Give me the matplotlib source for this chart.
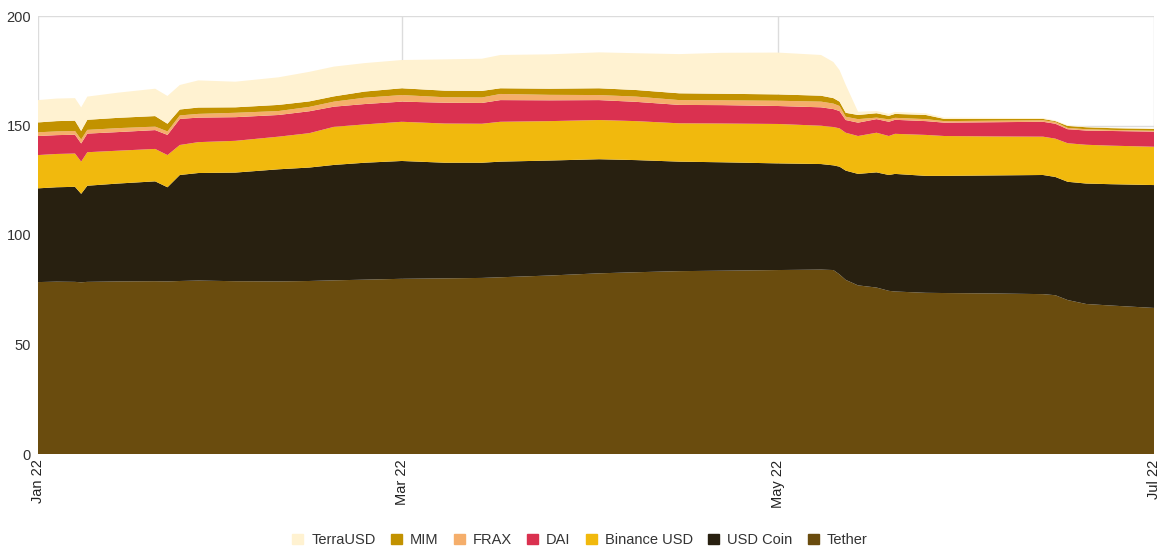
import matplotlib
matplotlib.use("Agg")
import matplotlib.pyplot as plt
import matplotlib.dates as mdates
import matplotlib.patches as mpatches
import numpy as np
import pandas as pd

# ── Data (supply, billions USD) ──────────────────────────────────────────────
dates = pd.to_datetime([
    "2022-01-01", "2022-01-04", "2022-01-07", "2022-01-08", "2022-01-09",
    "2022-01-14", "2022-01-20", "2022-01-22", "2022-01-24", "2022-01-27",
    "2022-02-02", "2022-02-09", "2022-02-14", "2022-02-18", "2022-02-23",
    "2022-03-01", "2022-03-08", "2022-03-14", "2022-03-17", "2022-03-25",
    "2022-04-02", "2022-04-08", "2022-04-15", "2022-04-22", "2022-05-01",
    "2022-05-08", "2022-05-10", "2022-05-11", "2022-05-12", "2022-05-14",
    "2022-05-17", "2022-05-19", "2022-05-20", "2022-05-25", "2022-05-28",
    "2022-06-05", "2022-06-13", "2022-06-15", "2022-06-17", "2022-06-20",
    "2022-06-24", "2022-07-01",
])

tether = [78.5, 78.7, 78.6, 78.4, 78.6, 78.8, 78.9, 78.8, 79.0, 79.2,
          78.9, 78.8, 79.0, 79.3, 79.6, 80.0, 80.2, 80.4, 80.7, 81.5,
          82.5, 83.0, 83.5, 83.7, 84.0, 84.2, 84.0, 82.0, 79.5, 77.0,
          76.0, 74.5, 74.2, 73.6, 73.5, 73.3, 73.0, 72.5, 70.3, 68.5,
          67.8, 66.7]
usd_coin = [42.8, 43.1, 43.4, 40.4, 43.9, 44.7, 45.6, 43.0, 48.4, 49.1,
            49.6, 51.2, 51.8, 52.7, 53.4, 53.8, 52.8, 52.6, 52.8, 52.5,
            52.1, 51.2, 50.0, 49.5, 48.7, 48.2, 47.8, 49.2, 49.9, 50.9,
            52.6, 52.9, 53.7, 53.4, 53.5, 53.9, 54.4, 54.0, 54.0, 55.0,
            55.4, 56.1]
binance_usd = [15.2, 15.2, 15.2, 14.7, 15.3, 15.0, 14.8, 14.7, 13.7, 14.1,
               14.5, 14.9, 15.7, 17.4, 17.5, 17.9, 17.9, 17.8, 18.2, 18.0,
               17.9, 17.8, 17.5, 17.7, 18.0, 17.5, 17.5, 17.5, 17.3, 17.3,
               18.1, 17.8, 18.3, 18.7, 18.2, 17.8, 17.5, 17.5, 17.6, 17.7,
               17.6, 17.5]
dai = [8.7, 8.6, 8.6, 8.3, 8.5, 8.5, 8.6, 9.2, 11.9, 11.2,
       10.8, 9.9, 10.0, 9.2, 9.3, 9.2, 9.5, 9.5, 9.9, 9.5,
       9.1, 8.8, 8.4, 8.4, 8.2, 8.4, 8.2, 7.9, 5.8, 6.1,
       6.2, 6.5, 6.4, 6.3, 6.1, 6.5, 6.8, 6.8, 6.4, 6.5,
       6.7, 6.9]
frax = [1.7, 1.7, 1.7, 1.8, 1.7, 1.8, 1.6, 1.6, 1.6, 1.7,
        2.0, 1.8, 2.0, 2.3, 2.9, 3.0, 2.5, 2.5, 2.8, 2.5,
        2.3, 2.4, 2.2, 2.2, 2.4, 2.6, 2.5, 2.3, 1.5, 1.6,
        0.7, 1.1, 0.9, 0.9, 0.7, 0.7, 0.7, 0.8, 0.6, 0.6,
        0.5, 0.4]
mim = [4.5, 4.7, 4.7, 3.9, 4.6, 4.7, 4.8, 3.5, 2.7, 2.9,
       2.5, 2.8, 2.5, 2.4, 2.8, 3.1, 3.0, 3.0, 2.6, 2.8,
       3.1, 3.0, 3.1, 3.0, 2.9, 2.7, 2.5, 2.0, 1.8, 1.9,
       2.0, 1.6, 1.8, 1.9, 1.0, 0.8, 0.6, 0.4, 0.9, 0.9,
       0.8, 0.8]
terra_usd = [10.2, 10.3, 10.3, 10.8, 10.6, 11.5, 12.5, 12.7, 11.2, 12.4,
             11.7, 12.6, 13.5, 13.6, 13.0, 12.9, 14.3, 14.7, 15.2, 15.7,
             16.4, 16.8, 17.9, 18.7, 19.1, 18.6, 16.5, 14.4, 12.8, 1.5,
             1.0, 0.9, 0.9, 0.8, 0.6, 0.5, 0.4, 0.3, 0.3, 0.3,
             0.2, 0.2]

names = ["Tether", "USD Coin", "Binance USD", "DAI", "FRAX", "MIM", "TerraUSD"]
colors = ["#6A4C0E", "#282010", "#F1B90D", "#DA3150", "#F5AE6B", "#C29200", "#FFF2D1"]
series = [tether, usd_coin, binance_usd, dai, frax, mim, terra_usd]

plt.rcParams["font.family"] = ["Liberation Sans", "DejaVu Sans"]

# ── Canvas ───────────────────────────────────────────────────────────────────
fig = plt.figure(figsize=(11.6, 5.49), dpi=100)
ax = fig.add_axes([38 / 1160, 1 - 454 / 549, (1154 - 38) / 1160, (454 - 16) / 549])

ax.stackplot(dates, *series, colors=colors, linewidth=0, zorder=2)

ax.set_xlim(pd.Timestamp("2022-01-01"), pd.Timestamp("2022-07-01"))
ax.set_ylim(0, 200)
ax.set_yticks([0, 50, 100, 150, 200])
ax.set_xticks(pd.to_datetime(["2022-01-01", "2022-03-01", "2022-05-01", "2022-07-01"]))
ax.xaxis.set_major_formatter(mdates.DateFormatter("%b %y"))

ax.grid(True, color="#dcdcdc", linewidth=1, zorder=0)
ax.set_axisbelow(True)
for s in ax.spines.values():
    s.set_visible(False)

ax.tick_params(axis="both", length=0, labelsize=10.5, colors="#333333")
ax.tick_params(axis="y", pad=5)
ax.tick_params(axis="x", pad=4)
for lbl in ax.get_xticklabels():
    lbl.set_rotation(90)
    lbl.set_ha("center")
    lbl.set_va("top")
    lbl.set_color("#222222")

# ── Legend ───────────────────────────────────────────────────────────────────
handles = [mpatches.Patch(color=c, label=n) for n, c in zip(names, colors)][::-1]
fig.legend(handles=handles, loc="center", bbox_to_anchor=(0.5, 1 - 540 / 549),
           ncol=7, frameon=False, fontsize=10.5, handlelength=0.75,
           handleheight=0.75, handletextpad=0.55, columnspacing=1.05,
           labelcolor="#333333")

fig.savefig("out.png", dpi=100, facecolor="white")
